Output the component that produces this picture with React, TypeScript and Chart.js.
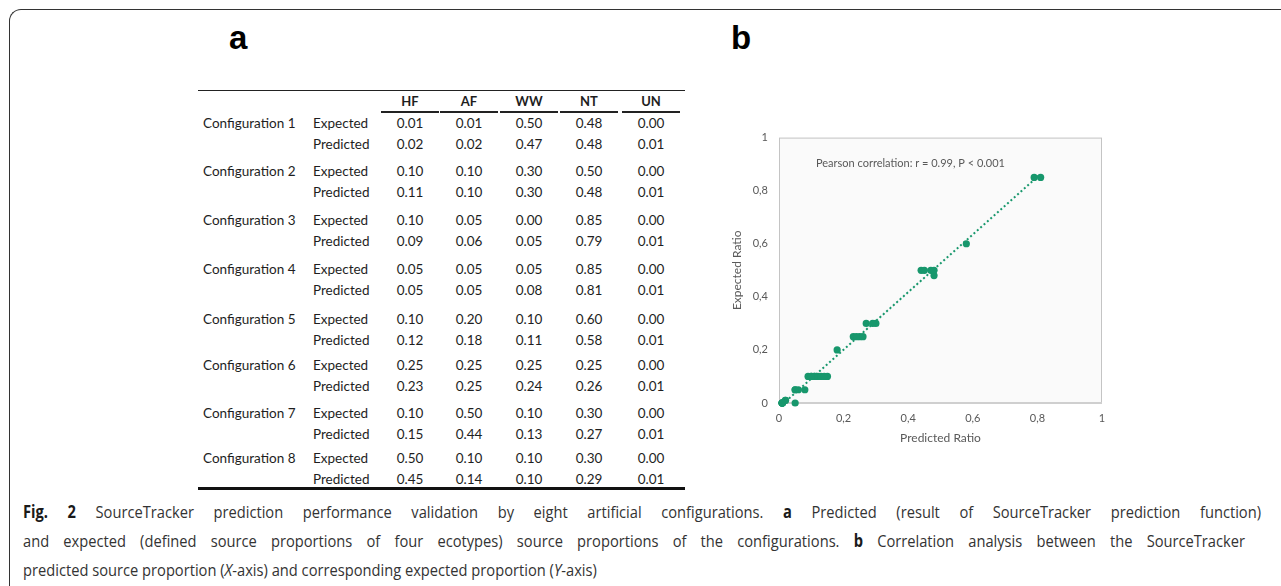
import React, { useEffect, useLayoutEffect, useRef, useState } from "react";
import { Chart, registerables } from "chart.js";

Chart.register(...registerables);

// ---------------- data ----------------
const configurations = [
  "Configuration 1",
  "Configuration 2",
  "Configuration 3",
  "Configuration 4",
  "Configuration 5",
  "Configuration 6",
  "Configuration 7",
  "Configuration 8",
];
const sources = ["HF", "AF", "WW", "NT", "UN"];
const expectedValues = [
  [0.01, 0.01, 0.5, 0.48, 0.0],
  [0.1, 0.1, 0.3, 0.5, 0.0],
  [0.1, 0.05, 0.0, 0.85, 0.0],
  [0.05, 0.05, 0.05, 0.85, 0.0],
  [0.1, 0.2, 0.1, 0.6, 0.0],
  [0.25, 0.25, 0.25, 0.25, 0.0],
  [0.1, 0.5, 0.1, 0.3, 0.0],
  [0.5, 0.1, 0.1, 0.3, 0.0],
];
const predictedValues = [
  [0.02, 0.02, 0.47, 0.48, 0.01],
  [0.11, 0.1, 0.3, 0.48, 0.01],
  [0.09, 0.06, 0.05, 0.79, 0.01],
  [0.05, 0.05, 0.08, 0.81, 0.01],
  [0.12, 0.18, 0.11, 0.58, 0.01],
  [0.23, 0.25, 0.24, 0.26, 0.01],
  [0.15, 0.44, 0.13, 0.27, 0.01],
  [0.45, 0.14, 0.1, 0.29, 0.01],
];
const axisTicks = [0, 0.2, 0.4, 0.6, 0.8, 1];
const pearsonText = "Pearson correlation: r = 0.99, P < 0.001";
const xTitle = "Predicted Ratio";
const yTitle = "Expected Ratio";

// ---------------- layout ----------------
const colCenters = [410, 469, 529, 589, 651];
const configRowY = [123, 171, 220, 269, 319, 365, 413, 458];
const predOffset = 20.5;
const GREEN = "#17976c";
const CHART_FONT = "Lato, 'Open Sans', sans-serif";

const scatterPoints = predictedValues.flatMap((row, i) =>
  row.map((p, j) => ({ x: p, y: expectedValues[i][j] }))
);

function regressionLine(pts: { x: number; y: number }[]) {
  const n = pts.length;
  const mx = pts.reduce((s, p) => s + p.x, 0) / n;
  const my = pts.reduce((s, p) => s + p.y, 0) / n;
  let sxy = 0;
  let sxx = 0;
  pts.forEach((p) => {
    sxy += (p.x - mx) * (p.y - my);
    sxx += (p.x - mx) * (p.x - mx);
  });
  const b = sxy / sxx;
  const a = my - b * mx;
  const xs = pts.map((p) => p.x);
  const x0 = Math.min(...xs);
  const x1 = Math.max(...xs);
  return [
    { x: x0, y: a + b * x0 },
    { x: x1, y: a + b * x1 },
  ];
}

const plotDecor = {
  id: "plotDecor",
  beforeDraw(chart: any) {
    const { ctx, chartArea: a } = chart;
    ctx.save();
    ctx.fillStyle = "#fafafa";
    ctx.fillRect(a.left, a.top, a.right - a.left, a.bottom - a.top);
    ctx.strokeStyle = "#c4c4c4";
    ctx.lineWidth = 1;
    ctx.strokeRect(a.left + 0.5, a.top + 0.5, a.right - a.left - 1, a.bottom - a.top - 1);
    ctx.strokeStyle = "#cfcfcf";
    ctx.lineWidth = 2;
    ctx.beginPath();
    ctx.moveTo(a.left, a.bottom);
    ctx.lineTo(a.right, a.bottom);
    ctx.stroke();
    ctx.restore();
  },
  afterDatasetsDraw(chart: any) {
    const { ctx, chartArea: a } = chart;
    ctx.save();
    ctx.fillStyle = "#595959";
    ctx.font = `11px ${CHART_FONT}`;
    ctx.textBaseline = "middle";
    ctx.textAlign = "left";
    ctx.fillText(pearsonText, a.left + 37, a.top + 26);
    ctx.restore();
  },
};

function ScatterPanel() {
  const ref = useRef<HTMLCanvasElement | null>(null);
  useEffect(() => {
    if (!ref.current) return;
    const fmt = (v: any) => String(Number(v)).replace(".", ",");
    const chart = new Chart(ref.current, {
      type: "scatter",
      data: {
        datasets: [
          {
            type: "line",
            data: regressionLine(scatterPoints),
            borderColor: GREEN,
            borderWidth: 2,
            borderDash: [2, 2.5],
            pointRadius: 0,
            fill: false,
            order: 2,
          } as any,
          {
            data: scatterPoints,
            backgroundColor: GREEN,
            borderColor: GREEN,
            pointRadius: 3.6,
            borderWidth: 0,
            order: 1,
          },
        ],
      },
      options: {
        animation: false,
        responsive: false,
        devicePixelRatio: 1,
        clip: false as any,
        layout: { padding: { top: 14, right: 18, left: 0, bottom: 0 } },
        plugins: { legend: { display: false }, tooltip: { enabled: false } },
        scales: {
          x: {
            type: "linear",
            min: 0,
            max: 1,
            afterBuildTicks: (s: any) => {
              s.ticks = axisTicks.map((v) => ({ value: v }));
            },
            afterFit: (s: any) => {
              s.height = 57;
            },
            grid: { display: false, drawTicks: false },
            border: { display: false },
            ticks: {
              padding: 9,
              color: "#595959",
              font: { family: CHART_FONT, size: 11 },
              callback: fmt,
            },
            title: {
              display: true,
              text: xTitle,
              color: "#595959",
              font: { family: CHART_FONT, size: 12 },
              padding: { top: 0, bottom: 15 },
            },
          },
          y: {
            type: "linear",
            min: 0,
            max: 1,
            afterBuildTicks: (s: any) => {
              s.ticks = axisTicks.map((v) => ({ value: v }));
            },
            afterFit: (s: any) => {
              s.width = 79;
            },
            grid: { display: false, drawTicks: false },
            border: { display: false },
            ticks: {
              padding: 11,
              color: "#595959",
              font: { family: CHART_FONT, size: 11 },
              callback: fmt,
            },
            title: {
              display: true,
              text: yTitle,
              color: "#595959",
              font: { family: CHART_FONT, size: 12 },
              padding: { top: 30, bottom: 0 },
            },
          },
        },
      },
      plugins: [plotDecor],
    });
    return () => chart.destroy();
  }, []);
  return (
    <canvas
      ref={ref}
      width={420}
      height={340}
      style={{ position: "absolute", left: 700, top: 120, width: 420, height: 340 }}
    />
  );
}

const TABLE_FONT = "Lato, 'Open Sans', sans-serif";

function Cell({
  x,
  y,
  text,
  align = "center",
  bold = false,
  size = 13.5,
}: {
  x: number;
  y: number;
  text: string;
  align?: "center" | "left";
  bold?: boolean;
  size?: number;
}) {
  const w = 80;
  return (
    <div
      style={{
        position: "absolute",
        left: align === "center" ? x - w / 2 : x,
        top: y - 10,
        width: align === "center" ? w : 200,
        height: 20,
        lineHeight: "20px",
        fontSize: size,
        fontWeight: bold ? 700 : 400,
        textAlign: align,
        fontFamily: TABLE_FONT,
        color: "#1e1e1e",
        whiteSpace: "nowrap",
      }}
    >
      {text}
    </div>
  );
}

function TablePanel() {
  const items: React.ReactNode[] = [];
  sources.forEach((s, j) => {
    items.push(<Cell key={`h${j}`} x={colCenters[j]} y={101} text={s} bold size={13} />);
    items.push(
      <div
        key={`u${j}`}
        style={{
          position: "absolute",
          left: colCenters[j] - 29,
          top: 111,
          width: 58,
          height: 1.5,
          background: "#222",
        }}
      />
    );
  });
  configurations.forEach((c, i) => {
    const y0 = configRowY[i];
    const y1 = y0 + predOffset;
    items.push(<Cell key={`c${i}`} x={203} y={y0} text={c} align="left" />);
    items.push(<Cell key={`e${i}`} x={313} y={y0} text="Expected" align="left" />);
    items.push(<Cell key={`p${i}`} x={313} y={y1} text="Predicted" align="left" />);
    sources.forEach((_, j) => {
      items.push(
        <Cell key={`ev${i}-${j}`} x={colCenters[j]} y={y0} text={expectedValues[i][j].toFixed(2)} />
      );
      items.push(
        <Cell key={`pv${i}-${j}`} x={colCenters[j]} y={y1} text={predictedValues[i][j].toFixed(2)} />
      );
    });
  });
  return (
    <>
      <div style={{ position: "absolute", left: 198, top: 89.5, width: 487, height: 1.5, background: "#222" }} />
      {items}
      <div style={{ position: "absolute", left: 198, top: 487, width: 487, height: 2.5, background: "#111" }} />
    </>
  );
}

const B = ({ children }: { children: React.ReactNode }) => (
  <b style={{ fontWeight: 700, color: "#1a1a1a" }}>{children}</b>
);

function Caption() {
  const l3 = useRef<HTMLSpanElement | null>(null);
  const [k, setK] = useState(0.8);
  useLayoutEffect(() => {
    if (l3.current) {
      const w = l3.current.offsetWidth;
      if (w > 0) setK(574 / w);
    }
  }, []);
  const base: React.CSSProperties = {
    position: "absolute",
    left: 23,
    fontFamily: "'Open Sans', sans-serif",
    fontSize: 17,
    lineHeight: "20px",
    color: "#333",
    transformOrigin: "0 0",
    transform: `scaleX(${k})`,
  };
  return (
    <>
      <div
        style={{
          ...base,
          top: 501.5,
          width: 1238 / k,
          textAlign: "justify",
          textAlignLast: "justify",
        }}
      >
        <B>Fig. 2</B> SourceTracker prediction performance validation by eight artificial configurations.{" "}
        <B>a</B> Predicted (result of SourceTracker prediction function)
      </div>
      <div
        style={{
          ...base,
          top: 530.5,
          width: 1222 / k,
          textAlign: "justify",
          textAlignLast: "justify",
        }}
      >
        and expected (defined source proportions of four ecotypes) source proportions of the configurations.{" "}
        <B>b</B> Correlation analysis between the SourceTracker
      </div>
      <div style={{ ...base, top: 559.5, whiteSpace: "nowrap" }}>
        <span ref={l3} style={{ display: "inline-block" }}>
          predicted source proportion (<i>X</i>-axis) and corresponding expected proportion (<i>Y</i>-axis)
        </span>
      </div>
    </>
  );
}

export default function App() {
  return (
    <div
      style={{
        position: "fixed",
        left: 0,
        top: 0,
        width: 1281,
        height: 586,
        background: "#fff",
        overflow: "hidden",
      }}
    >
      <div
        style={{
          position: "absolute",
          left: 9,
          top: 9,
          width: 1400,
          height: 700,
          borderTop: "1.5px solid #333",
          borderLeft: "1.5px solid #333",
          borderTopLeftRadius: 12,
        }}
      />
      <div
        style={{
          position: "absolute",
          left: 229,
          top: 21,
          fontFamily: "'Liberation Sans', Arial, sans-serif",
          fontWeight: 700,
          fontSize: 33,
          lineHeight: "33px",
          color: "#000",
        }}
      >
        a
      </div>
      <div
        style={{
          position: "absolute",
          left: 731,
          top: 21,
          fontFamily: "'Liberation Sans', Arial, sans-serif",
          fontWeight: 700,
          fontSize: 33,
          lineHeight: "33px",
          color: "#000",
        }}
      >
        b
      </div>
      <TablePanel />
      <ScatterPanel />
      <Caption />
    </div>
  );
}
